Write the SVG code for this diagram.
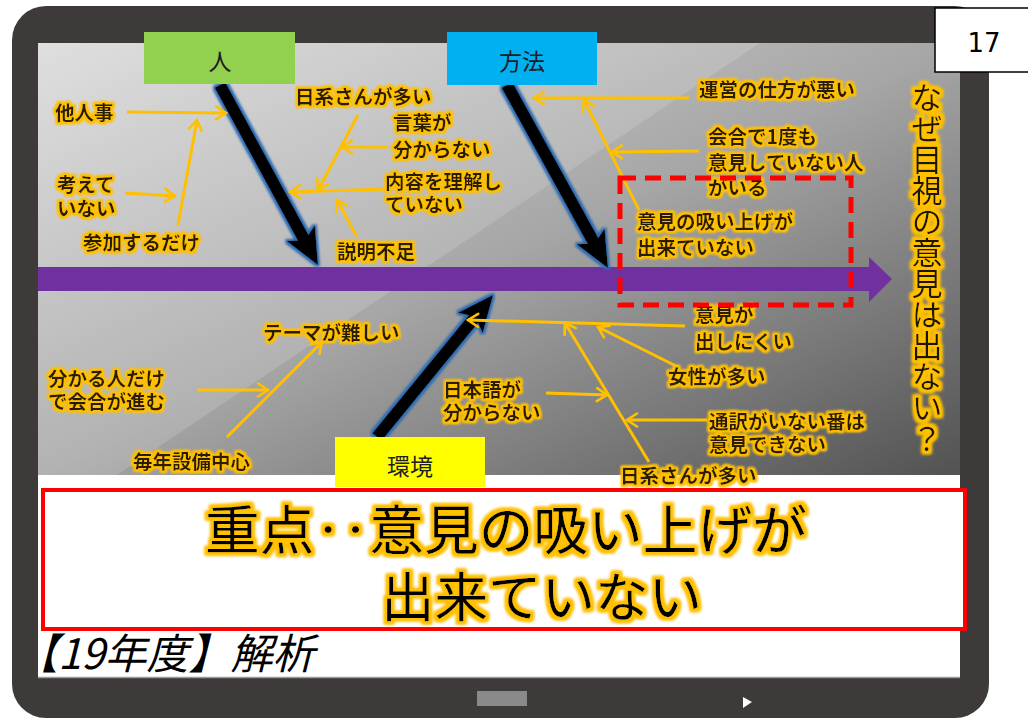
<svg xmlns="http://www.w3.org/2000/svg" width="1028" height="720" viewBox="0 0 1028 720">
<defs>
<style>
.lbl{font-family:"Noto Sans CJK JP","Noto Sans CJK SC",sans-serif;font-size:19.5px;font-weight:bold;fill:#2a1e00;filter:url(#tglow)}
.cat{font-family:"Noto Sans CJK JP","Noto Sans CJK SC",sans-serif;font-size:23px;fill:#1e1e1e;text-anchor:middle}
.big{font-family:"Noto Sans CJK JP","Noto Sans CJK SC",sans-serif;font-size:53px;fill:#000;filter:url(#bglow)}
.yl{stroke:#ffc000;stroke-width:3;fill:none;marker-end:url(#ya)}
.bone{stroke:#000;stroke-width:12;fill:none;marker-end:url(#ba)}
</style>
<linearGradient id="scr" x1="0" y1="0" x2="1" y2="1">
<stop offset="0" stop-color="#dadada"/>
<stop offset="0.5" stop-color="#a6a6a6"/>
<stop offset="1" stop-color="#525252"/>
</linearGradient>
<marker id="ya" markerUnits="userSpaceOnUse" viewBox="0 0 14 16" markerWidth="14" markerHeight="16" refX="12" refY="8" orient="auto">
<path d="M2,1.5 L12,8 L2,14.5" stroke="#ffc000" stroke-width="2.6" fill="none" stroke-linecap="round"/>
</marker>
<marker id="ba" markerUnits="userSpaceOnUse" viewBox="0 0 36 32" markerWidth="36" markerHeight="32" refX="16" refY="16" orient="auto">
<path d="M0,0 L36,16 L0,32 L8,16 Z" fill="#000"/>
</marker>
<filter id="tglow" x="-15%" y="-40%" width="130%" height="180%">
<feMorphology in="SourceAlpha" operator="dilate" radius="2" result="d"/>
<feGaussianBlur in="d" stdDeviation="0.8" result="b"/>
<feFlood flood-color="#ffc000"/>
<feComposite in2="b" operator="in" result="g"/>
<feMerge><feMergeNode in="g"/><feMergeNode in="g"/><feMergeNode in="SourceGraphic"/></feMerge>
</filter>
<filter id="bglow" x="-15%" y="-30%" width="130%" height="160%">
<feMorphology in="SourceAlpha" operator="dilate" radius="3" result="d"/>
<feGaussianBlur in="d" stdDeviation="1.5" result="b"/>
<feFlood flood-color="#ffc000"/>
<feComposite in2="b" operator="in" result="g"/>
<feMerge><feMergeNode in="g"/><feMergeNode in="g"/><feMergeNode in="SourceGraphic"/></feMerge>
</filter>
<filter id="boneglow" x="-20%" y="-20%" width="140%" height="140%">
<feMorphology in="SourceAlpha" operator="dilate" radius="2" result="d"/>
<feFlood flood-color="#2e6db4"/>
<feComposite in2="d" operator="in" result="g"/>
<feGaussianBlur in="g" stdDeviation="0.8" result="gb"/>
<feMerge><feMergeNode in="gb"/><feMergeNode in="SourceGraphic"/></feMerge>
</filter>
</defs>

<g id="tablet">
<rect x="12" y="6" width="977" height="712" rx="34" fill="#3e3a39"/>
<rect x="38" y="43" width="922" height="432" fill="url(#scr)"/>
<polygon points="38,43 760,43 117,475 38,475" fill="#ffffff" opacity="0.14"/>
<rect x="38" y="475" width="922" height="203" fill="#ffffff"/>
<line x1="38" y1="677.5" x2="960" y2="677.5" stroke="#9a9a9a" stroke-width="1.5"/>
<rect x="477" y="691" width="50" height="15" fill="#8a8a8a"/>
<polygon points="743,697 752,702 743,708" fill="#ffffff"/>
</g>

<g id="spine">
<rect x="38" y="267" width="833" height="24" fill="#7030a0"/>
<polygon points="869,257 892,279 869,302" fill="#7030a0"/>
</g>

<g id="connectors">
<g filter="url(#boneglow)">
<line class="bone" x1="220" y1="85" x2="308.4" y2="247.4"/>
<line class="bone" x1="507" y1="85" x2="598.3" y2="250.5"/>
<line class="bone" x1="377" y1="437" x2="480.4" y2="310.5"/>
</g>
<line class="yl" x1="127" y1="112" x2="226" y2="113"/>
<line class="yl" x1="178" y1="225" x2="197" y2="120"/>
<line class="yl" x1="125" y1="193" x2="175" y2="196"/>
<line class="yl" x1="358" y1="115" x2="318" y2="190"/>
<line class="yl" x1="387" y1="147" x2="342" y2="147"/>
<line class="yl" x1="387" y1="189" x2="290" y2="192"/>
<line class="yl" x1="357" y1="237" x2="337" y2="200"/>
<line class="yl" x1="689" y1="98" x2="534" y2="98"/>
<line class="yl" x1="639" y1="210" x2="584" y2="100"/>
<line class="yl" x1="699" y1="151" x2="612" y2="152"/>
<line class="yl" x1="685" y1="326" x2="468" y2="320"/>
<line class="yl" x1="678" y1="367" x2="598" y2="327"/>
<line class="yl" x1="649" y1="462" x2="565" y2="323"/>
<line class="yl" x1="546" y1="393" x2="607" y2="395"/>
<line class="yl" x1="707" y1="420" x2="627" y2="420"/>
<line class="yl" x1="227" y1="437" x2="322" y2="342"/>
<line class="yl" x1="197" y1="390" x2="268" y2="390"/>
</g>

<g id="node-hito"><rect x="144" y="32" width="151" height="52" fill="#92d050"/><text class="cat" x="220" y="70">人</text></g>
<g id="node-houhou"><rect x="447" y="32" width="150" height="53" fill="#00b0f0"/><text class="cat" x="522" y="70">方法</text></g>
<g id="node-kankyou"><rect x="335" y="437" width="150" height="50" fill="#ffff00"/><text class="cat" x="410" y="475">環境</text></g>

<g id="labels-hito">
<text class="lbl" x="55" y="120">他人事</text>
<text class="lbl" x="57" y="192">考えて<tspan x="57" dy="24">いない</tspan></text>
<text class="lbl" x="83" y="250">参加するだけ</text>
<text class="lbl" x="295" y="104">日系さんが多い</text>
<text class="lbl" x="393" y="130">言葉が<tspan x="393" dy="27">分からない</tspan></text>
<text class="lbl" x="385" y="189">内容を理解し<tspan x="385" dy="23">ていない</tspan></text>
<text class="lbl" x="337" y="259">説明不足</text>
</g>
<g id="labels-houhou">
<text class="lbl" x="699" y="97">運営の仕方が悪い</text>
<text class="lbl" x="708" y="144">会合で1度も<tspan x="708" dy="26">意見していない人</tspan><tspan x="708" dy="25">がいる</tspan></text>
<text class="lbl" x="637" y="229">意見の吸い上げが<tspan x="637" dy="26">出来ていない</tspan></text>
</g>
<g id="labels-kankyou">
<text class="lbl" x="695" y="322">意見が<tspan x="695" dy="27">出しにくい</tspan></text>
<text class="lbl" x="668" y="384">女性が多い</text>
<text class="lbl" x="443" y="397">日本語が<tspan x="443" dy="23">分からない</tspan></text>
<text class="lbl" x="709" y="429">通訳がいない番は<tspan x="709" dy="23">意見できない</tspan></text>
<text class="lbl" x="620" y="483">日系さんが多い</text>
<text class="lbl" x="263" y="340">テーマが難しい</text>
<text class="lbl" x="48" y="386">分かる人だけ<tspan x="48" dy="23">で会合が進む</tspan></text>
<text class="lbl" x="133" y="469">毎年設備中心</text>
</g>

<g id="focus-box">
<rect x="620" y="178" width="231" height="127" fill="none" stroke="#ff0000" stroke-width="5" stroke-dasharray="16 9"/>
</g>

<g id="question">
<text x="927" y="82" style="writing-mode:vertical-rl" font-family="Noto Sans CJK JP, Noto Sans CJK SC, sans-serif" font-size="31" fill="#1a1400" filter="url(#bglow)">なぜ目視の意見は出ない？</text>
</g>

<g id="conclusion">
<rect x="43" y="490" width="922" height="139" fill="#ffffff" stroke="#ff0000" stroke-width="4"/>
<text class="big" x="205" y="550" textLength="602" lengthAdjust="spacingAndGlyphs">重点‥意見の吸い上げが</text>
<text class="big" x="381" y="617" textLength="321" lengthAdjust="spacingAndGlyphs">出来ていない</text>
</g>

<g id="title">
<text x="16" y="669" font-family="Noto Sans CJK JP, Noto Sans CJK SC, sans-serif" font-size="42" font-style="italic" fill="#000">【19年度】解析</text>
</g>

<g id="page-number">
<rect x="935" y="8" width="95" height="64" fill="#ffffff" stroke="#000" stroke-width="1.5"/>
<text x="984" y="52" font-family="DejaVu Sans, sans-serif" font-size="26" fill="#000" text-anchor="middle">17</text>
</g>
</svg>
